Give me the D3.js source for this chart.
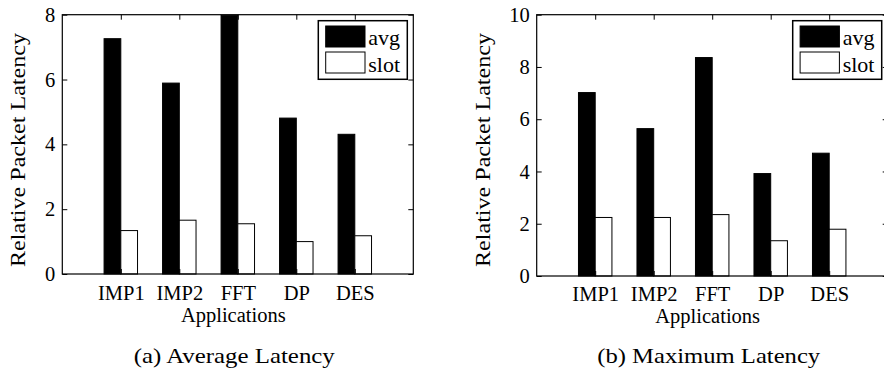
<!DOCTYPE html>
<html>
<head>
<meta charset="utf-8">
<script src="https://cdn.jsdelivr.net/npm/d3@7"></script>
<style>
  html, body { margin: 0; padding: 0; background: #fff; }
  svg { display: block; }
  text { font-family: "Liberation Serif", "Times New Roman", serif; fill: #000; }
</style>
</head>
<body>
<svg id="chart" width="884" height="371"></svg>
<script>
// ---- data ----
const categories = ["IMP1", "IMP2", "FFT", "DP", "DES"];
const seriesNames = ["avg", "slot"];
const avgChartAvg = [7.26, 5.89, 7.98, 4.81, 4.31];
const avgChartSlot = [1.34, 1.66, 1.55, 1.00, 1.18];
const maxChartAvg = [7.02, 5.64, 8.36, 3.92, 4.70];
const maxChartSlot = [2.24, 2.24, 2.35, 1.35, 1.79];
const avgChartTicks = [0, 2, 4, 6, 8];
const maxChartTicks = [0, 2, 4, 6, 8, 10];
const yLabel = "Relative Packet Latency";
const xLabel = "Applications";
const captions = ["(a) Average Latency", "(b) Maximum Latency"];

const svg = d3.select("#chart");
const barHalf = 0.286; // width of each bar in category units

function drawPanel(cfg) {
  const g = svg.append("g");
  const x = d3.scaleLinear().domain([0, categories.length + 1]).range([cfg.left, cfg.left + 351]);
  const y = d3.scaleLinear().domain([0, cfg.yMax]).range([cfg.bottom, 14.7]);
  const pos = categories.map((c, i) => i + 1);

  const series = [
    { name: seriesNames[0], values: cfg.avg, off: -barHalf, fill: "#000" },
    { name: seriesNames[1], values: cfg.slot, off: 0, fill: "#fff" }
  ];
  series.forEach(s => {
    g.selectAll(null).data(s.values).enter().append("rect")
      .attr("x", (d, i) => x(pos[i] + s.off))
      .attr("width", x(barHalf) - x(0))
      .attr("y", d => y(d))
      .attr("height", d => y(0) - y(d))
      .attr("fill", s.fill)
      .attr("stroke", "#000")
      .attr("stroke-width", 1);
  });

  const [x0, x1] = x.range();
  const [y0, y1] = y.range();

  const axL = g.append("g").attr("transform", `translate(${x0},0)`)
    .call(d3.axisLeft(y).tickValues(cfg.ticks).tickSize(-5).tickPadding(7).tickFormat(d3.format("d")));
  const axR = g.append("g").attr("transform", `translate(${x1},0)`)
    .call(d3.axisRight(y).tickValues(cfg.ticks).tickSize(-5).tickFormat(""));
  const axB = g.append("g").attr("transform", `translate(0,${y0})`)
    .call(d3.axisBottom(x).tickValues(pos).tickSize(-5).tickPadding(11).tickFormat((d, i) => categories[i]));
  const axT = g.append("g").attr("transform", `translate(0,${y1})`)
    .call(d3.axisTop(x).tickValues(pos).tickSize(-5).tickFormat(""));
  [axL, axR, axB, axT].forEach(a => {
    a.select(".domain").remove();
    a.selectAll("line").attr("stroke", "#000").attr("stroke-width", 1);
    a.selectAll("text").attr("font-family", "Liberation Serif").attr("font-size", 20.5).attr("fill", "#000");
  });
  axB.selectAll("text").attr("dy", null).attr("y", null)
    .attr("transform", `translate(0,${cfg.tickBase - y0})`);

  g.append("rect").attr("x", x0).attr("y", y1).attr("width", x1 - x0).attr("height", y0 - y1)
    .attr("fill", "none").attr("stroke", "#000").attr("stroke-width", 1.2);

  g.append("text").attr("transform", `translate(${cfg.yLabelX},150) rotate(-90)`)
    .attr("text-anchor", "middle").attr("font-size", 21)
    .attr("textLength", 234).attr("lengthAdjust", "spacingAndGlyphs").text(yLabel);
  g.append("text").attr("x", x0 + 171).attr("y", cfg.xLabelBase)
    .attr("text-anchor", "middle").attr("font-size", 20.5).text(xLabel);
  g.append("text").attr("x", x0 + 172).attr("y", 362.5)
    .attr("text-anchor", "middle").attr("font-size", 21)
    .attr("textLength", cfg.capLen).attr("lengthAdjust", "spacingAndGlyphs").text(cfg.caption);

  const lx = x0 + 256;
  const lg = g.append("g");
  lg.append("rect").attr("x", lx).attr("y", 20.7).attr("width", 89).attr("height", 58.6)
    .attr("fill", "#fff").attr("stroke", "#000").attr("stroke-width", 1.5);
  series.forEach((s, i) => {
    lg.append("rect").attr("x", lx + 7.4).attr("y", 26 + i * 26).attr("width", 39.3).attr("height", 21)
      .attr("fill", s.fill).attr("stroke", "#000").attr("stroke-width", 1);
    lg.append("text").attr("x", lx + 50).attr("y", 45 + i * 27).attr("font-size", 22).text(s.name);
  });
}

drawPanel({ left: 62.3, bottom: 274, yMax: 8, ticks: avgChartTicks, avg: avgChartAvg, slot: avgChartSlot,
  yLabelX: 25, xLabelBase: 322, tickBase: 299.5, caption: captions[0], capLen: 201 });
drawPanel({ left: 536.7, bottom: 276, yMax: 10, ticks: maxChartTicks, avg: maxChartAvg, slot: maxChartSlot,
  yLabelX: 490, xLabelBase: 323, tickBase: 300.5, caption: captions[1], capLen: 223 });
</script>
</body>
</html>
